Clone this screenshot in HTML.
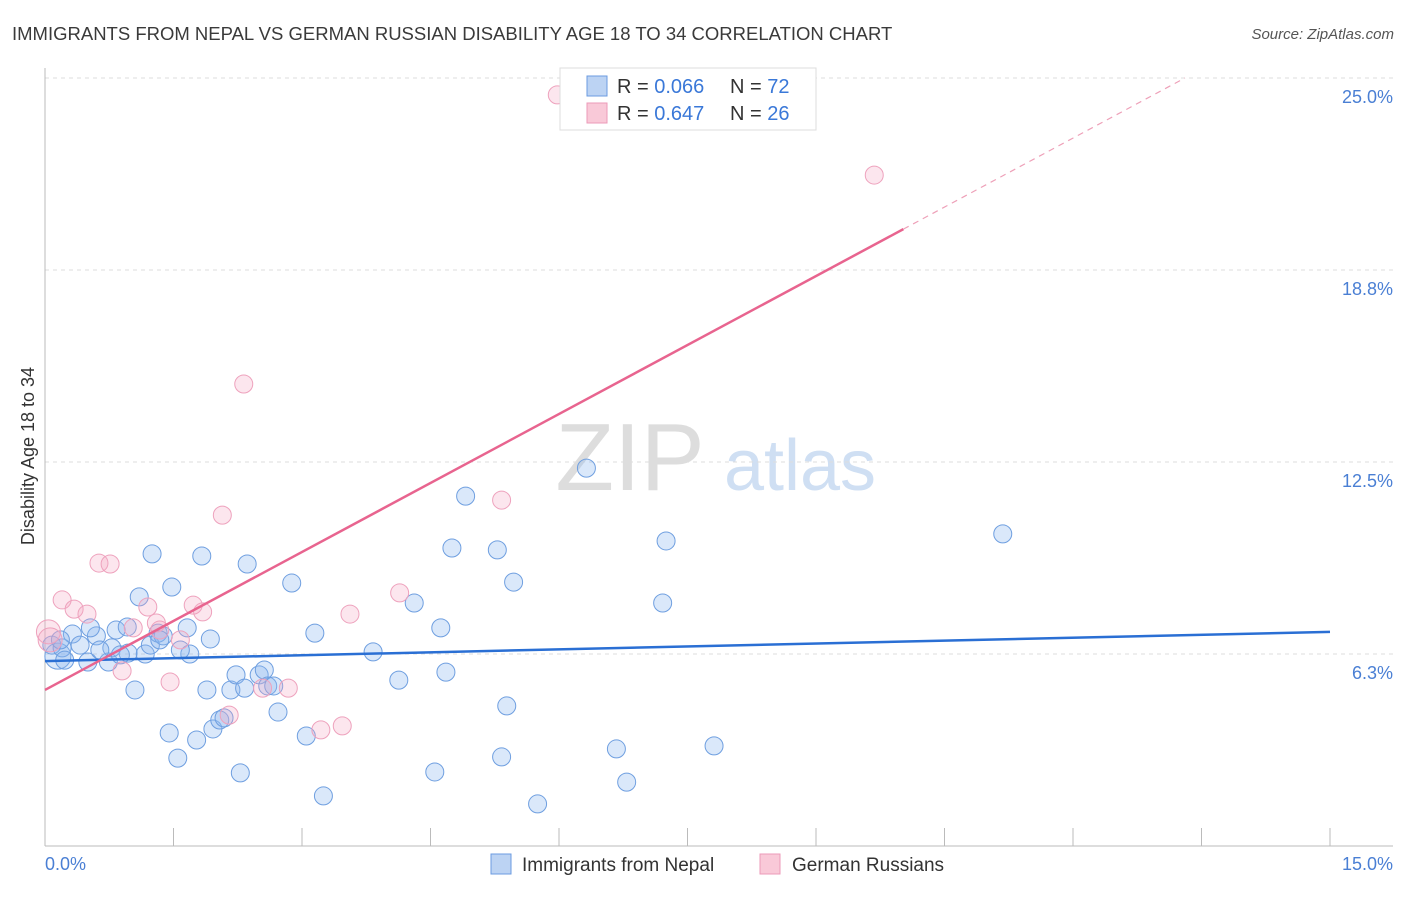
<!DOCTYPE html>
<html><head><meta charset="utf-8"><style>
body{margin:0;background:#fff;font-family:"Liberation Sans",sans-serif}
svg text{font-family:"Liberation Sans",sans-serif}
</style></head><body>
<svg id="c" width="1406" height="892">
<text x="12" y="40" font-size="18.5" fill="#3a3a3a">IMMIGRANTS FROM NEPAL VS GERMAN RUSSIAN DISABILITY AGE 18 TO 34 CORRELATION CHART</text>
<text x="1394" y="39" font-size="15" fill="#555" font-style="italic" text-anchor="end">Source: ZipAtlas.com</text>
<text x="630" y="490" font-size="96" fill="#ddd" font-family="Liberation Serif" text-anchor="middle">ZIP</text>
<text x="800" y="490" font-size="72" fill="#cfdff3" text-anchor="middle">atlas</text>
<g id="grid"></g><g id="marks"></g>
<text transform="translate(34,456) rotate(-90)" font-size="18" fill="#333" text-anchor="middle">Disability Age 18 to 34</text>
<text x="45" y="870" font-size="18" fill="#4a7fd4">0.0%</text>
<text x="1393" y="870" font-size="18" fill="#4a7fd4" text-anchor="end">15.0%</text>
<g>
<rect x="560" y="68" width="256" height="62" fill="#fff" stroke="#ddd"/>
<rect x="587" y="76" width="20" height="20" fill="#bcd3f3" stroke="#6b9be0"/>
<rect x="587" y="103" width="20" height="20" fill="#f9c9d8" stroke="#ec9ab8"/>
<text x="617" y="93" font-size="20" fill="#333">R = <tspan fill="#3a78d8">0.066</tspan></text>
<text x="730" y="93" font-size="20" fill="#333">N = <tspan fill="#3a78d8">72</tspan></text>
<text x="617" y="120" font-size="20" fill="#333">R = <tspan fill="#3a78d8">0.647</tspan></text>
<text x="730" y="120" font-size="20" fill="#333">N = <tspan fill="#3a78d8">26</tspan></text>
</g>
<g>
<rect x="491" y="854" width="20" height="20" fill="#bcd3f3" stroke="#6b9be0"/>
<text x="522" y="871" font-size="19" fill="#333">Immigrants from Nepal</text>
<rect x="760" y="854" width="20" height="20" fill="#f9c9d8" stroke="#ec9ab8"/>
<text x="792" y="871" font-size="19" fill="#333">German Russians</text>
</g>
</svg>
<script>
const yTicks=[6.3,12.5,18.8,25.0];
const blueX=[0.15,0.08,0.20,0.32,0.50,0.60,0.74,0.78,0.83,0.96,0.97,1.05,1.10,1.17,1.23,1.25,1.32,1.38,1.45,1.48,1.55,1.66,1.69,1.77,1.83,1.89,1.93,1.96,2.04,2.09,2.17,2.23,2.28,2.33,2.36,2.50,2.56,2.60,2.67,2.72,2.88,3.05,3.15,3.25,3.83,4.13,4.31,4.55,4.62,4.68,4.75,4.91,5.28,5.33,5.39,5.47,5.75,6.32,6.67,6.79,7.21,7.25,7.81,11.18,0.18,0.41,0.64,0.88,1.34,1.58,0.23,0.53];
const blueY=[6.18,6.54,6.45,6.90,5.99,6.84,5.99,6.45,7.03,7.13,6.28,5.08,8.11,6.25,6.54,9.51,6.93,6.84,3.68,8.43,2.86,7.10,6.25,3.45,9.44,5.08,6.74,3.81,4.10,4.17,5.08,5.57,2.38,5.14,9.18,5.57,5.73,5.21,5.21,4.36,8.56,3.58,6.93,1.63,6.32,5.40,7.91,2.41,7.10,5.66,9.70,11.39,9.64,2.90,4.56,8.59,1.37,12.30,3.16,2.08,7.91,9.93,3.26,10.16,6.71,6.54,6.38,6.22,6.71,6.38,6.05,7.10];
const pinkX=[5.98,9.68,2.32,2.07,5.33,0.63,0.76,0.20,0.34,0.49,1.20,1.30,1.73,1.84,1.58,1.46,0.90,1.03,1.34,2.15,2.54,2.84,3.22,3.47,3.56,4.14,0.04,0.06];
const pinkY=[24.45,21.84,15.04,10.77,11.26,9.21,9.18,8.01,7.71,7.55,7.78,7.26,7.84,7.62,6.71,5.34,5.70,7.10,7.03,4.26,5.14,5.14,3.78,3.91,7.55,8.24,6.97,6.71];
const blueTrend=[6.02,0.0633];
const pinkTrend=[5.08,1.497];
const X=v=>45+v/15*1285, Y=v=>846-v/6.25*192;
const NS='http://www.w3.org/2000/svg';
function mk(t,a,p){const e=document.createElementNS(NS,t);for(const k in a)e.setAttribute(k,a[k]);p.appendChild(e);return e;}
const g=document.getElementById('grid'), m=document.getElementById('marks');
yTicks.forEach(t=>{const yy=Y(t===6.3?6.25:t===18.8?18.75:t);
const l=mk('line',{x1:45,x2:1393,y1:yy,y2:yy,stroke:'#ddd','stroke-dasharray':'4,4'},g);


const tx=mk('text',{x:1393,y:yy+25,'font-size':18,fill:'#4a7fd4','text-anchor':'end'},g);tx.textContent=t.toFixed(1)+'%';

});
mk('line',{x1:45,x2:45,y1:68,y2:846,stroke:'#bbb'},g);
mk('line',{x1:45,x2:1393,y1:846,y2:846,stroke:'#bbb'},g);
for(let i=0;i<=10;i++){const t=mk('line',{x1:X(i*1.5),x2:X(i*1.5),y1:828,y2:846,stroke:'#bbb'},g);

}
blueX.forEach((x,i)=>{const c=mk('circle',{cx:X(x),cy:Y(blueY[i]),r:(i===0?13:9),fill:'rgba(140,182,238,0.32)',stroke:'#6f9fe0','stroke-width':1},m);

});
pinkX.forEach((x,i)=>{const c=mk('circle',{cx:X(x),cy:Y(pinkY[i]),r:(i>=26?12:9),fill:'rgba(245,165,195,0.28)',stroke:'#eea2bd','stroke-width':1},m);

});
const bl=mk('line',{x1:X(0),y1:Y(blueTrend[0]),x2:X(15),y2:Y(blueTrend[0]+15*blueTrend[1]),stroke:'#2a6fd4','stroke-width':2.5},m);


const xs=10.02, xe=(25.0-pinkTrend[0])/pinkTrend[1];
const pl=mk('line',{x1:X(0),y1:Y(pinkTrend[0]),x2:X(xs),y2:Y(pinkTrend[0]+xs*pinkTrend[1]),stroke:'#e8648f','stroke-width':2.5},m);


const pd=mk('line',{x1:X(xs),y1:Y(pinkTrend[0]+xs*pinkTrend[1]),x2:X(xe),y2:Y(25.0),stroke:'#eea0b8','stroke-width':1.2,'stroke-dasharray':'6,5'},m);


</script>
</body></html>
